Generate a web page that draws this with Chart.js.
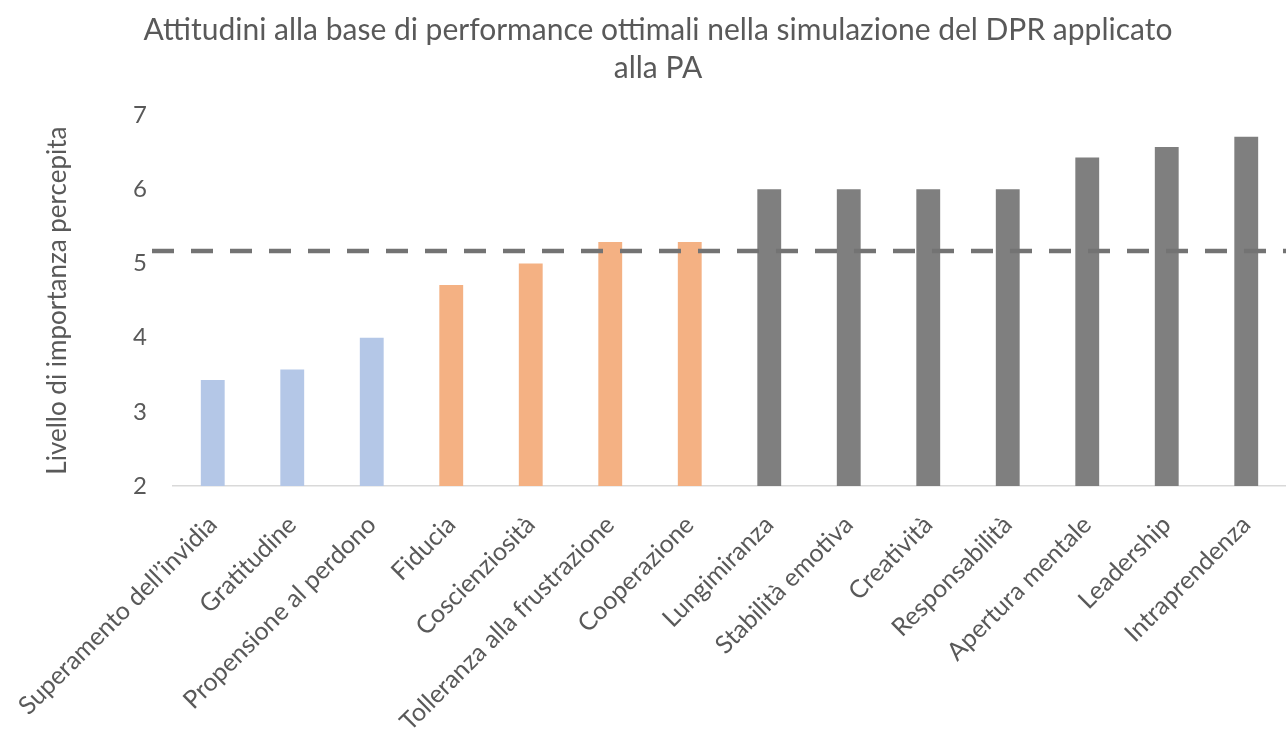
<!DOCTYPE html>
<html lang="it">
<head>
<meta charset="utf-8">
<title>Attitudini</title>
<script src="https://cdn.jsdelivr.net/npm/chart.js@4/dist/chart.umd.min.js"></script>
<style>
  html, body { margin: 0; padding: 0; background: #ffffff; }
  #wrap { width: 1286px; height: 736px; position: relative; }
</style>
</head>
<body>
<div id="wrap"><canvas id="attitudini"></canvas></div>
<script>
// Attitudini e livello medio di importanza percepita
const categorie = [
    "Superamento dell\u2019invidia",
    "Gratitudine",
    "Propensione al perdono",
    "Fiducia",
    "Coscienziosità",
    "Tolleranza alla frustrazione",
    "Cooperazione",
    "Lungimiranza",
    "Stabilità emotiva",
    "Creatività",
    "Responsabilità",
    "Apertura mentale",
    "Leadership",
    "Intraprendenza",
];
const valori = [3.43, 3.57, 4.0, 4.71, 5.0, 5.29, 5.29, 6.0, 6.0, 6.0, 6.0, 6.43, 6.57, 6.71];
// gruppo di ogni attitudine: 0 = bassa, 1 = media, 2 = alta
const gruppi = [0, 0, 0, 1, 1, 1, 1, 2, 2, 2, 2, 2, 2, 2];
const tickY = [2, 3, 4, 5, 6, 7];
const soglia = 5.17;

const coloriGruppo = ["#b4c7e7", "#f4b183", "#7f7f7f"];
const grigioTesto = "#595959";
const font = "Lato";

// Linea tratteggiata della soglia, disegnata sopra le barre
const lineaSoglia = {
    id: "lineaSoglia",
    afterDatasetsDraw(chart) {
        const ctx = chart.ctx;
        const y = chart.scales.y.getPixelForValue(soglia);
        ctx.save();
        ctx.strokeStyle = "#737373";
        ctx.lineWidth = 4.5;
        ctx.setLineDash([22, 17]);
        ctx.beginPath();
        ctx.moveTo(chart.chartArea.left - 21, y);
        ctx.lineTo(chart.width, y);
        ctx.stroke();
        ctx.restore();
    },
};

const ctx = document.getElementById("attitudini").getContext("2d");
new Chart(ctx, {
    type: "bar",
    data: {
        labels: categorie,
        datasets: [
            {
                label: "Livello di importanza percepita",
                data: valori,
                backgroundColor: gruppi.map((g) => coloriGruppo[g]),
                barPercentage: 0.3,
                categoryPercentage: 1,
            },
        ],
    },
    options: {
        responsive: true,
        maintainAspectRatio: false,
        animation: false,
        layout: { padding: { left: 30, right: 0, top: 0, bottom: 0 } },
        plugins: {
            legend: { display: false },
            tooltip: { enabled: false },
            title: {
                display: true,
                text: [
                    "Attitudini alla base di performance ottimali nella simulazione del DPR applicato",
                    "alla PA",
                ],
                color: grigioTesto,
                font: { family: font, size: 30, weight: "normal", lineHeight: 1.27 },
                padding: { top: 11, bottom: 28 },
            },
        },
        scales: {
            x: {
                grid: { display: false, drawTicks: false },
                border: { display: true, color: "#d9d9d9", width: 1.5 },
                ticks: {
                    color: grigioTesto,
                    font: { family: font, size: 25 },
                    maxRotation: 45,
                    minRotation: 45,
                    padding: 24,
                    autoSkip: false,
                },
                afterFit: (scale) => {
                    // etichette ruotate: nessun margine extra ai lati dell'area
                    scale.height = 250;
                    scale.paddingLeft = 0;
                    scale.paddingRight = 0;
                },
            },
            y: {
                min: 2,
                max: 7,
                grid: { display: false, drawTicks: false },
                border: { display: false },
                afterBuildTicks: (scale) => {
                    scale.ticks = tickY.map((v) => ({ value: v }));
                },
                ticks: {
                    color: grigioTesto,
                    font: { family: font, size: 24 },
                    padding: 26,
                },
                title: {
                    display: true,
                    text: "Livello di importanza percepita",
                    color: grigioTesto,
                    font: { family: font, size: 26 },
                    padding: { top: 12, bottom: 0 },
                },
                afterFit: (scale) => {
                    scale.width = 143;
                },
            },
        },
    },
    plugins: [lineaSoglia],
});
</script>
</body>
</html>
